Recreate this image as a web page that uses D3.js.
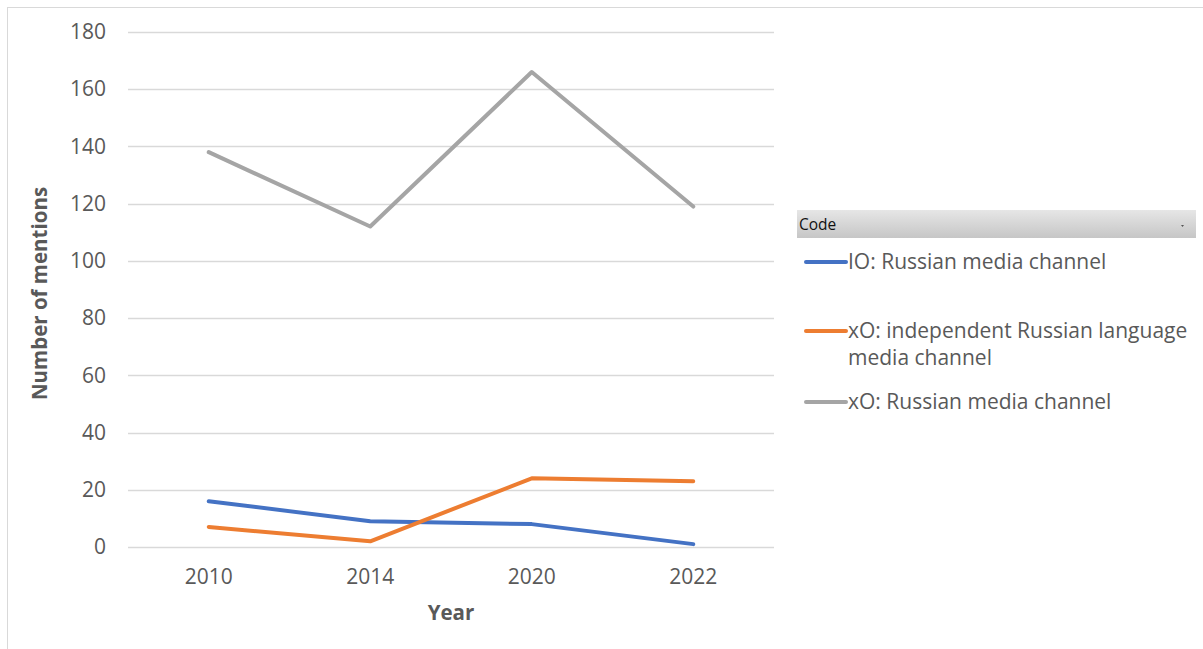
<!DOCTYPE html>
<html>
<head>
<meta charset="utf-8">
<script src="https://cdn.jsdelivr.net/npm/d3@7"></script>
<style>
  html, body { margin: 0; padding: 0; background: #fff; }
  svg { display: block; font-family: "Open Sans", "Noto Sans", sans-serif; }
</style>
</head>
<body>
<svg id="chart" width="1203" height="649"></svg>
<script>
// Mentions per year for each media-channel code
const years = ["2010", "2014", "2020", "2022"];
const ioRussian = [16, 9, 8, 1];
const xoIndependent = [7, 2, 24, 23];
const xoRussian = [138, 112, 166, 119];
const yTicks = [0, 20, 40, 60, 80, 100, 120, 140, 160, 180];
const seriesNames = [
  "IO: Russian media channel",
  "xO: independent Russian language media channel",
  "xO: Russian media channel"
];
const seriesColors = ["#4472C4", "#ED7D31", "#A5A5A5"];

const series = [ioRussian, xoIndependent, xoRussian].map((values, i) => ({
  name: seriesNames[i],
  color: seriesColors[i],
  values
}));

const svg = d3.select("#chart");

// Outer chart frame
svg.append("rect")
  .attr("x", 7.5).attr("y", 7.5)
  .attr("width", 1220).attr("height", 660)
  .attr("fill", "#fff")
  .attr("stroke", "#D9D9D9").attr("stroke-width", 1);

const plot = { left: 128, right: 774, top: 32, bottom: 547 };

const x = d3.scaleBand().domain(years).range([plot.left, plot.right]);
const y = d3.scaleLinear().domain([0, 180]).range([plot.bottom, plot.top]);

// Horizontal gridlines
svg.append("g")
  .selectAll("line")
  .data(yTicks)
  .join("line")
  .attr("x1", plot.left).attr("x2", plot.right)
  .attr("y1", d => Math.round(y(d)) + 0.5)
  .attr("y2", d => Math.round(y(d)) + 0.5)
  .attr("stroke", "#D9D9D9").attr("stroke-width", 1.3);

// Y axis labels
const yAxis = svg.append("g")
  .attr("transform", `translate(${plot.left - 22},0)`)
  .call(d3.axisLeft(y).tickValues(yTicks).tickSize(0).tickPadding(0));
yAxis.select(".domain").remove();
yAxis.selectAll("text")
  .attr("fill", "#595959")
  .style("font-size", "21px")
  .style("font-family", "'Open Sans', sans-serif");

// X axis labels
const xAxis = svg.append("g")
  .attr("transform", `translate(0,${plot.bottom + 22})`)
  .call(d3.axisBottom(x).tickSize(0).tickPadding(0));
xAxis.select(".domain").remove();
xAxis.selectAll("text")
  .attr("fill", "#595959")
  .attr("dy", "0.72em")
  .style("font-size", "21px")
  .style("font-family", "'Open Sans', sans-serif");

// Axis titles
svg.append("text")
  .attr("transform", `translate(47,${(plot.top + plot.bottom) / 2 + 4}) rotate(-90)`)
  .attr("text-anchor", "middle")
  .attr("fill", "#595959")
  .style("font-size", "20.5px")
  .style("font-weight", "bold")
  .text("Number of mentions");

svg.append("text")
  .attr("x", (plot.left + plot.right) / 2)
  .attr("y", 620)
  .attr("text-anchor", "middle")
  .attr("fill", "#595959")
  .style("font-size", "20.5px")
  .style("font-weight", "bold")
  .text("Year");

// Series lines
const line = d3.line()
  .x((d, i) => x(years[i]) + x.bandwidth() / 2)
  .y(d => y(d));

svg.append("g")
  .selectAll("path")
  .data(series)
  .join("path")
  .attr("d", d => line(d.values))
  .attr("fill", "none")
  .attr("stroke", d => d.color)
  .attr("stroke-width", 4)
  .attr("stroke-linejoin", "round")
  .attr("stroke-linecap", "round");

// Legend header bar
const defs = svg.append("defs");
const grad = defs.append("linearGradient")
  .attr("id", "hdr").attr("x1", 0).attr("x2", 0).attr("y1", 0).attr("y2", 1);
grad.append("stop").attr("offset", "0%").attr("stop-color", "#E6E6E6");
grad.append("stop").attr("offset", "100%").attr("stop-color", "#C6C6C6");

svg.append("rect")
  .attr("x", 797).attr("y", 210)
  .attr("width", 399).attr("height", 28)
  .attr("fill", "url(#hdr)");
svg.append("text")
  .attr("x", 799).attr("y", 230)
  .attr("fill", "#111")
  .style("font-size", "15.5px")
  .text("Code");
svg.append("path")
  .attr("d", "M1181,225 L1184,225 L1182.5,227 Z")
  .attr("fill", "#555");

// Legend entries
const legendRows = [
  { lineY: 262, lines: ["IO: Russian media channel"] },
  { lineY: 331, lines: ["xO: independent Russian language", "media channel"] },
  { lineY: 402, lines: ["xO: Russian media channel"] }
];

const legend = svg.append("g")
  .selectAll("g")
  .data(series)
  .join("g");

legend.append("line")
  .attr("x1", 806).attr("x2", 846)
  .attr("y1", (d, i) => legendRows[i].lineY)
  .attr("y2", (d, i) => legendRows[i].lineY)
  .attr("stroke", d => d.color)
  .attr("stroke-width", 4)
  .attr("stroke-linecap", "round");

legend.append("text")
  .attr("x", 848)
  .attr("y", (d, i) => legendRows[i].lineY + 7)
  .attr("fill", "#595959")
  .style("font-size", "21px")
  .selectAll("tspan")
  .data((d, i) => legendRows[i].lines)
  .join("tspan")
  .attr("x", 848)
  .attr("dy", (d, j) => j === 0 ? 0 : 27)
  .text(d => d);
</script>
</body>
</html>
